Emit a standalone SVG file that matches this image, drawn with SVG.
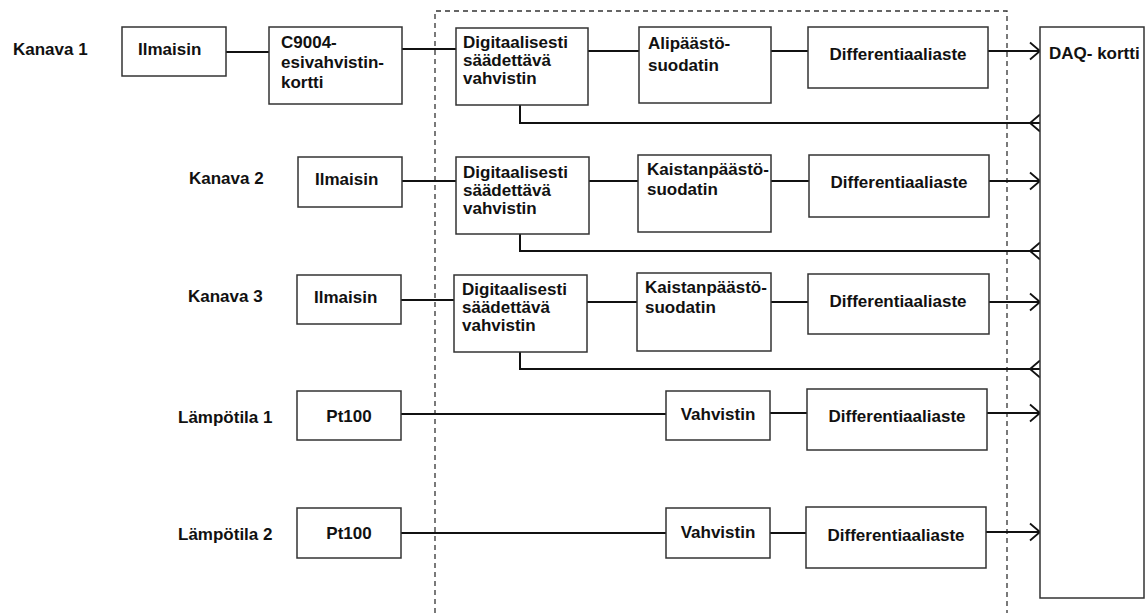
<svg xmlns="http://www.w3.org/2000/svg" width="1148" height="613" viewBox="0 0 1148 613">
<style>
.box{fill:#fff;stroke:#333;stroke-width:1.5}
.t{font-family:"Liberation Sans",Arial,sans-serif;font-weight:bold;font-size:17px;fill:#111}
.c{text-anchor:middle}
.w{fill:none;stroke:#111;stroke-width:2}
.dash{fill:none;stroke:#333;stroke-width:1.3;stroke-dasharray:5,4}
</style>
<defs>
<marker id="arr" markerUnits="userSpaceOnUse" markerWidth="12" markerHeight="20" refX="11" refY="9.5" orient="auto" overflow="visible">
<path d="M1,1 L11,9.5 L1,18" fill="none" stroke="#111" stroke-width="1.8"/>
</marker>
<marker id="rev" markerUnits="userSpaceOnUse" markerWidth="12" markerHeight="20" refX="11" refY="9.5" orient="auto" overflow="visible">
<path d="M11,1 L1,9.5 L11,18" fill="none" stroke="#111" stroke-width="1.8"/>
</marker>
</defs>

<path class="dash" d="M435,613 V11 H1007 V613"/>

<g id="labels">
<text class="t" x="13" y="55">Kanava 1</text>
<text class="t" x="189" y="184">Kanava 2</text>
<text class="t" x="188" y="302">Kanava 3</text>
<text class="t" x="178" y="423">Lämpötila 1</text>
<text class="t" x="178" y="540">Lämpötila 2</text>
</g>

<g id="connectors">
<path class="w" d="M226,52 H269"/>
<path class="w" d="M402,49 H456"/>
<path class="w" d="M588,51 H639"/>
<path class="w" d="M771,51 H808"/>
<path class="w" d="M988,51 H1040" marker-end="url(#arr)"/>
<path class="w" d="M520,105 V123 H1040" marker-end="url(#rev)"/>

<path class="w" d="M402,181 H456"/>
<path class="w" d="M589,181 H638"/>
<path class="w" d="M771,181 H809"/>
<path class="w" d="M989,181 H1040" marker-end="url(#arr)"/>
<path class="w" d="M520,234 V251 H1040" marker-end="url(#rev)"/>

<path class="w" d="M401,300 H454"/>
<path class="w" d="M587,302 H637"/>
<path class="w" d="M771,302 H808"/>
<path class="w" d="M989,302 H1040" marker-end="url(#arr)"/>
<path class="w" d="M520,352 V369 H1040" marker-end="url(#rev)"/>

<path class="w" d="M401,414 H666"/>
<path class="w" d="M770,413 H807"/>
<path class="w" d="M987,413 H1040" marker-end="url(#arr)"/>

<path class="w" d="M401,533 H666"/>
<path class="w" d="M770,533 H806"/>
<path class="w" d="M986,532 H1040" marker-end="url(#arr)"/>
</g>

<g id="ilmaisin1"><rect class="box" x="122" y="27" width="104" height="49"/><text class="t" x="138" y="55">Ilmaisin</text></g>
<g id="c9004"><rect class="box" x="269" y="27" width="133" height="77"/><text class="t" x="281" y="48">C9004-</text><text class="t" x="281" y="68">esivahvistin-</text><text class="t" x="281" y="88">kortti</text></g>
<g id="digi1"><rect class="box" x="456" y="28" width="132" height="77"/><text class="t" x="463" y="48">Digitaalisesti</text><text class="t" x="463" y="66">säädettävä</text><text class="t" x="463" y="84">vahvistin</text></g>
<g id="alip"><rect class="box" x="639" y="27" width="132" height="76"/><text class="t" x="648" y="49">Alipäästö-</text><text class="t" x="648" y="71">suodatin</text></g>
<g id="diff1"><rect class="box" x="808" y="27" width="180" height="61"/><text class="t c" x="898" y="60">Differentiaaliaste</text></g>
<g id="daq"><rect class="box" x="1040" y="27" width="104" height="571"/><text class="t" x="1049" y="59">DAQ- kortti</text></g>

<g id="ilmaisin2"><rect class="box" x="298" y="157" width="104" height="50"/><text class="t" x="315" y="185">Ilmaisin</text></g>
<g id="digi2"><rect class="box" x="456" y="157" width="133" height="77"/><text class="t" x="463" y="178">Digitaalisesti</text><text class="t" x="463" y="196">säädettävä</text><text class="t" x="463" y="214">vahvistin</text></g>
<g id="kaist2"><rect class="box" x="638" y="155" width="133" height="77"/><text class="t" x="647" y="175">Kaistanpäästö-</text><text class="t" x="647" y="195">suodatin</text></g>
<g id="diff2"><rect class="box" x="809" y="155" width="180" height="62"/><text class="t c" x="899" y="188">Differentiaaliaste</text></g>

<g id="ilmaisin3"><rect class="box" x="297" y="275" width="104" height="49"/><text class="t" x="314" y="303">Ilmaisin</text></g>
<g id="digi3"><rect class="box" x="454" y="275" width="133" height="77"/><text class="t" x="462" y="295">Digitaalisesti</text><text class="t" x="462" y="313">säädettävä</text><text class="t" x="462" y="331">vahvistin</text></g>
<g id="kaist3"><rect class="box" x="637" y="273" width="134" height="78"/><text class="t" x="645" y="293">Kaistanpäästö-</text><text class="t" x="645" y="313">suodatin</text></g>
<g id="diff3"><rect class="box" x="808" y="274" width="181" height="60"/><text class="t c" x="898" y="307">Differentiaaliaste</text></g>

<g id="pt100a"><rect class="box" x="297" y="391" width="104" height="49"/><text class="t c" x="349" y="422">Pt100</text></g>
<g id="vahv1"><rect class="box" x="666" y="391" width="104" height="49"/><text class="t c" x="718" y="420">Vahvistin</text></g>
<g id="diff4"><rect class="box" x="807" y="389" width="180" height="61"/><text class="t c" x="897" y="422">Differentiaaliaste</text></g>

<g id="pt100b"><rect class="box" x="297" y="508" width="104" height="50"/><text class="t c" x="349" y="539">Pt100</text></g>
<g id="vahv2"><rect class="box" x="666" y="508" width="104" height="50"/><text class="t c" x="718" y="538">Vahvistin</text></g>
<g id="diff5"><rect class="box" x="806" y="507" width="180" height="61"/><text class="t c" x="896" y="541">Differentiaaliaste</text></g>
</svg>
